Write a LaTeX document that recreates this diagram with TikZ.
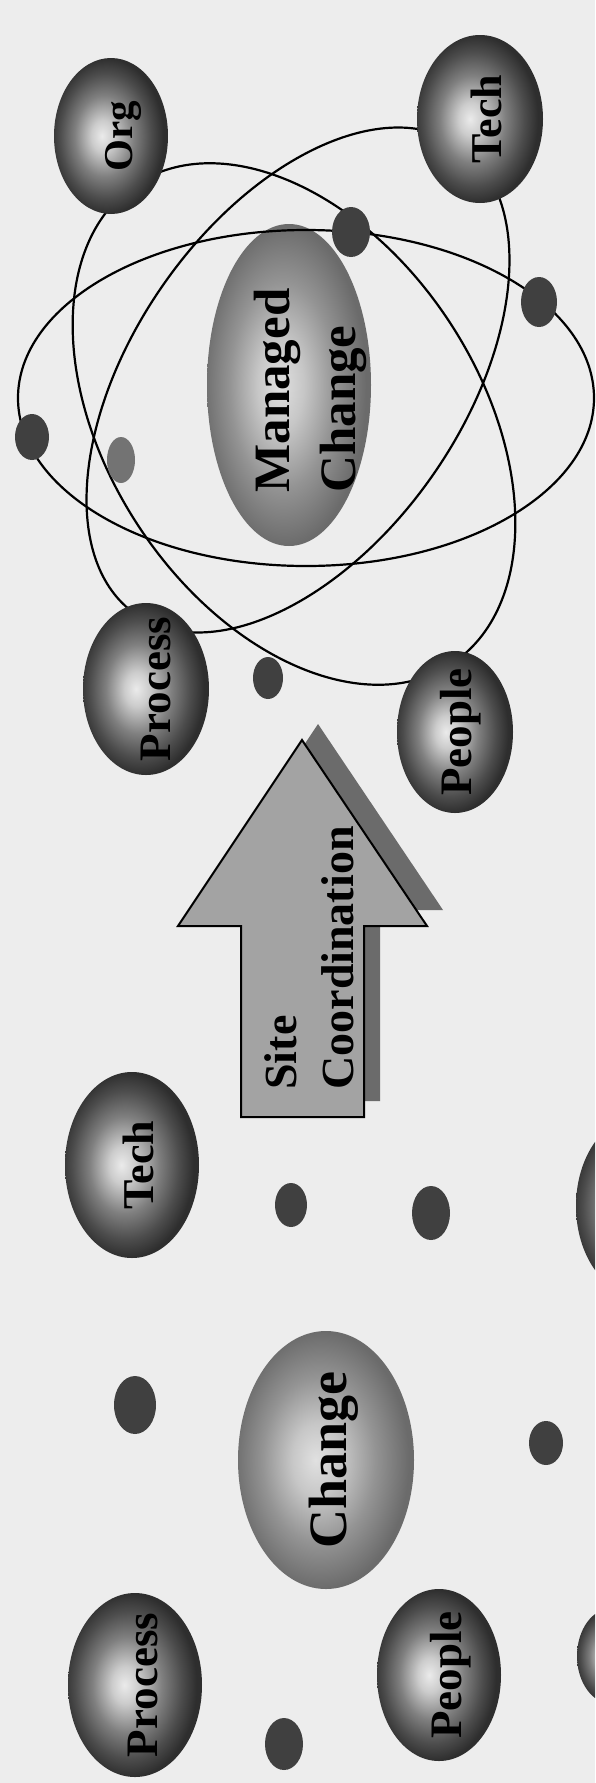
\documentclass[tikz,border=0pt]{standalone}
\usepackage{fontspec}
\setmainfont{Liberation Serif}
\usetikzlibrary{shapes.geometric}

\pgfdeclareradialshading{orbdark}{\pgfpoint{-4bp}{0bp}}{color(0bp)=(black!8); color(5bp)=(black!20); color(13bp)=(black!50); color(20bp)=(black!70); color(25bp)=(black!82); color(50bp)=(black!82)}
\pgfdeclareradialshading{orblight}{\pgfpoint{-3bp}{0bp}}{color(0bp)=(black!12); color(7bp)=(black!22); color(16bp)=(black!42); color(25bp)=(black!58); color(50bp)=(black!58)}

\begin{document}
\begin{tikzpicture}[x=0.5pt, y=-0.5pt,
  orb/.style={ellipse, shading=orbdark, inner sep=0pt},
  pale/.style={ellipse, shading=orblight, inner sep=0pt},
  dot/.style={ellipse, fill=black!75, inner sep=0pt},
  orbit/.style={draw=black, line width=1.1pt},
  lbl/.style={rotate=90, inner sep=0pt, font=\bfseries\fontsize{22.5}{27}\selectfont},
  biglbl/.style={lbl, align=left, font=\bfseries\fontsize{25.5}{33}\selectfont}]
\useasboundingbox (0,0) rectangle (595,1783);
\fill[black!7] (0,0) rectangle (595,1783);
\clip (0,0) rectangle (595,1783);

% managed change, with its orbits
\node[pale, minimum width=82pt, minimum height=161pt] (mgd) at (289,385) {};
\draw[orbit] (306,398) ellipse [x radius=144pt, y radius=84pt];
\draw[orbit, rotate around={55.3:(298,380)}] (298,380) ellipse [x radius=142.5pt, y radius=82.5pt];
\draw[orbit, rotate around={-56.7:(294,424)}] (294,424) ellipse [x radius=143.5pt, y radius=93pt];

\node[orb, minimum width=57pt, minimum height=78pt] (org) at (111,136) {};
\node[orb, minimum width=63pt, minimum height=84pt] (techA) at (480,119) {};
\node[orb, minimum width=63pt, minimum height=86pt] (procA) at (146,689) {};
\node[orb, minimum width=58pt, minimum height=81pt] (peopA) at (455,732) {};

\foreach \n/\p/\w/\h in {dA1/{(351,232)}/19/25, dA2/{(539,302)}/18/25, dA3/{(32,437)}/17/23,
    dA5/{(268,678)}/15/21, dB1/{(291,1205)}/16/22, dB2/{(431,1213)}/19/27,
    dB3/{(135,1405)}/21/29, dB4/{(546,1443)}/17/22, dB5/{(284,1744)}/19/26}
  \node[dot, minimum width=\w pt, minimum height=\h pt] (\n) at \p {};
\node[dot, fill=black!55, minimum width=14pt, minimum height=23pt] (dA4) at (121,460) {};

% site coordination arrow
\fill[black!58, shift={(16,-16)}] (302,740) -- (427,926) -- (364,926) -- (364,1117)
  -- (241,1117) -- (241,926) -- (178,926) -- cycle;
\draw[fill=black!36, line width=1pt] (302,740) -- (427,926) -- (364,926) -- (364,1117)
  -- (241,1117) -- (241,926) -- (178,926) -- cycle;
\node[lbl, align=left, anchor=west, font=\bfseries\fontsize{23}{28.5}\selectfont] (site) at (309,1090) {Site\\Coordination};

% unmanaged change
\node[orb, minimum width=67pt, minimum height=93pt] (techB) at (132,1165) {};
\node[orb, minimum width=64pt, minimum height=90pt] (edgeA) at (640,1206) {};
\node[pale, minimum width=88pt, minimum height=129pt] (chg) at (326,1460) {};
\node[orb, minimum width=67pt, minimum height=92pt] (procB) at (135,1685) {};
\node[orb, minimum width=62pt, minimum height=86pt] (peopB) at (439,1675) {};
\node[orb, minimum width=35pt, minimum height=48pt] (edgeB) at (612,1656) {};

% labels
\node[lbl, font=\bfseries\fontsize{20.5}{24}\selectfont] at ([xshift=6pt]org) {Org};
\node[lbl, font=\bfseries\fontsize{22}{26}\selectfont] at ([xshift=3pt]techA) {Tech};
\node[lbl] at ([xshift=5pt]procA) {Process};
\node[lbl] at ([xshift=3pt]peopA) {People};
\node[biglbl, anchor=west] at (310,493) {Managed\\Change};
\node[lbl, font=\bfseries\fontsize{22}{26}\selectfont] at ([xshift=3pt]techB) {Tech};
\node[lbl, font=\bfseries\fontsize{27}{32}\selectfont] at ([xshift=4pt]chg) {Change};
\node[lbl] at ([xshift=4pt]procB) {Process};
\node[lbl] at ([xshift=6pt]peopB) {People};
\end{tikzpicture}
\end{document}
